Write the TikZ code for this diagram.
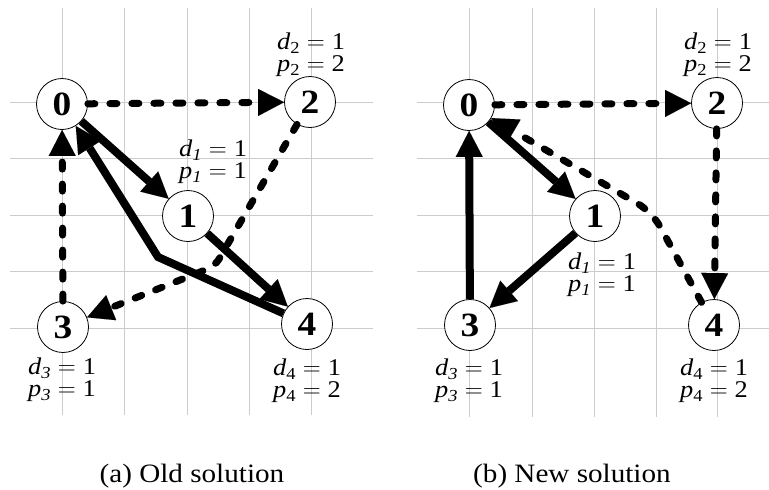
\documentclass[tikz,border=0pt]{standalone}
\usepackage{fontspec}
\setmainfont[FakeStretch=1.1]{Liberation Serif}
\usetikzlibrary{arrows.meta}
\newcommand{\eqsign}{${}={}$}
\begin{document}
\begin{tikzpicture}[x=1pt,y=-1pt,
  gridline/.style={draw=black!20, line width=0.9pt},
  vtx/.style={circle, draw, line width=0.8pt, fill=white, minimum size=51pt, inner sep=0pt,
    font=\fontsize{34}{34}\selectfont\bfseries},
  lbl/.style={align=center, inner sep=0pt, font=\fontsize{24}{22}\selectfont},
  captext/.style={inner sep=0pt, anchor=base, font=\fontsize{26.5}{26.5}\selectfont},
  tip/.style={-{Triangle[length=26pt,width=27pt,line width=0.01pt]}},
  solidarc/.style={tip, line width=8pt},
  dasharc/.style={tip, line width=7pt, line cap=round, dash pattern=on 7pt off 15pt}]
\path[fill=white] (0,0) rectangle (769,490);
\useasboundingbox (0,0) rectangle (769,490);
% grids
\foreach \x in {62,124,187,249,311} \draw[gridline] (\x,8) -- (\x,415);
\foreach \y in {102,158,215,271,328} \draw[gridline] (10,\y) -- (373,\y);
\foreach \x in {469,532,594,656,717} \draw[gridline] (\x,8) -- (\x,417);
\foreach \y in {102,158,215,271,328} \draw[gridline] (417,\y) -- (769,\y);
% left nodes
\node[vtx] (L0) at (62,104) {0};
\node[vtx] (L2) at (310,102) {2};
\node[vtx] (L1) at (188,216) {1};
\node[vtx] (L3) at (63,327) {3};
\node[vtx] (L4) at (307,324) {4};
\node[lbl] (L2t) at (311,55) {\textit{d}\textsubscript{2}\eqsign 1\\\textit{p}\textsubscript{2}\eqsign 2};
\node[lbl] (L1t) at (213,162) {\textit{d}\textsubscript{\textit{1}}\eqsign 1\\\textit{p}\textsubscript{\textit{1}}\eqsign 1};
\node[lbl] (L3t) at (62,380) {\textit{d}\textsubscript{\textit{3}}\eqsign 1\\\textit{p}\textsubscript{\textit{3}}\eqsign 1};
\node[lbl] (L4t) at (307,381) {\textit{d}\textsubscript{4}\eqsign 1\\\textit{p}\textsubscript{4}\eqsign 2};
\coordinate (Lb1) at (158,257);
\coordinate (Lb2) at (215,266);
\draw[dasharc] (L0) -- (L2);
\draw[solidarc] (L0) -- (L1);
\draw[solidarc] (L1) -- (L4);
\draw[solidarc] (L4) -- (Lb1) -- (L0);
\draw[dasharc, rounded corners=8pt] (L2) -- (Lb2) -- (L3);
\draw[dasharc] (L3) -- (L0);
% right nodes
\node[vtx] (R0) at (469,105) {0};
\node[vtx] (R2) at (717,103) {2};
\node[vtx] (R1) at (595,216) {1};
\node[vtx] (R3) at (470,325) {3};
\node[vtx] (R4) at (714,325) {4};
\node[lbl] (R2t) at (718,55) {\textit{d}\textsubscript{2}\eqsign 1\\\textit{p}\textsubscript{2}\eqsign 2};
\node[lbl] (R1t) at (602,275) {\textit{d}\textsubscript{\textit{1}}\eqsign 1\\\textit{p}\textsubscript{\textit{1}}\eqsign 1};
\node[lbl] (R3t) at (469,381) {\textit{d}\textsubscript{\textit{3}}\eqsign 1\\\textit{p}\textsubscript{\textit{3}}\eqsign 1};
\node[lbl] (R4t) at (714,381) {\textit{d}\textsubscript{4}\eqsign 1\\\textit{p}\textsubscript{4}\eqsign 2};
\coordinate (Rb) at (652,212);
\draw[dasharc] (R0) -- (R2);
\draw[solidarc] (R0) -- (R1);
\draw[solidarc] (R1) -- (R3);
\draw[solidarc] (R3) -- (R0);
\draw[dasharc] (R2) -- (R4);
\draw[dasharc, rounded corners=16pt] (R4) -- (Rb) -- (R0);
% captions
\node[captext] (capa) at (192,482) {(a) Old solution};
\node[captext] (capb) at (572,482) {(b) New solution};
\end{tikzpicture}
\end{document}
